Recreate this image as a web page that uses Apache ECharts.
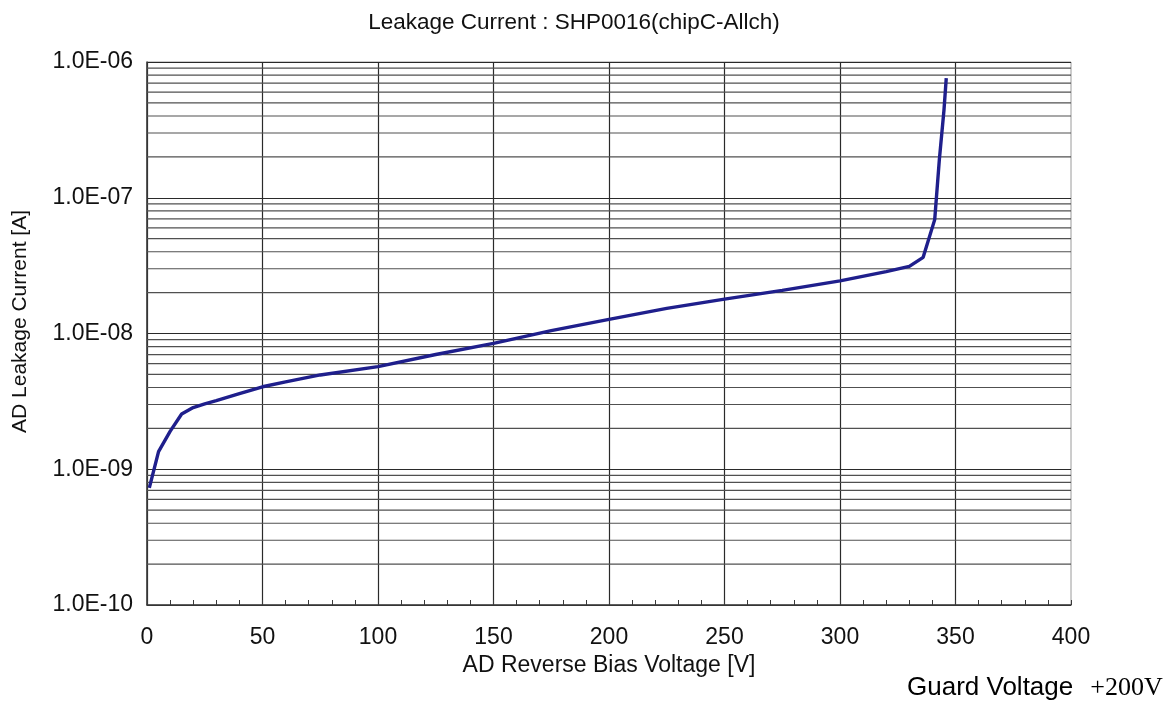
<!DOCTYPE html>
<html>
<head>
<meta charset="utf-8">
<script src="https://cdn.jsdelivr.net/npm/echarts@6/dist/echarts.min.js"></script>
<style>
  html, body { margin: 0; padding: 0; background: #ffffff; }
  #chart { width: 1175px; height: 711px; }
</style>
</head>
<body>
<div id="chart"></div>
<script>
// ---- data ----
var voltage = [1, 5, 10, 15, 20, 25, 30, 40, 50, 60, 75, 100, 125, 150, 175, 200, 225, 250, 275, 300, 320, 330, 336, 341, 343, 345, 346];
var current = [7.3e-10, 1.35e-9, 1.9e-9, 2.55e-9, 2.85e-9, 3.03e-9, 3.2e-9, 3.6e-9, 4.05e-9, 4.4e-9, 4.95e-9, 5.7e-9, 7.0e-9, 8.45e-9, 1.05e-8, 1.27e-8, 1.53e-8, 1.79e-8, 2.08e-8, 2.44e-8, 2.86e-8, 3.12e-8, 3.64e-8, 6.9e-8, 1.9e-7, 4.4e-7, 7.6e-7];
var xTickLabels = ['0', '50', '100', '150', '200', '250', '300', '350', '400'];
var yTickExponents = [-10, -9, -8, -7, -6];
var yTickLabels = ['1.0E-10', '1.0E-09', '1.0E-08', '1.0E-07', '1.0E-06'];
var minorMultipliers = [2, 3, 4, 5, 6, 7, 8, 9];
var titleText = 'Leakage Current : SHP0016(chipC-Allch)';
var xName = 'AD Reverse Bias Voltage [V]';
var yName = 'AD Leakage Current [A]';
var noteLeft = 'Guard Voltage';
var noteRight = '+200V';

// ---- build ----
var X_MIN = 0, X_MAX = 400;
var seriesData = voltage.map(function (v, i) { return [v, current[i]]; });
var minorGrid = [];
yTickExponents.slice(0, -1).forEach(function (e) {
  minorMultipliers.forEach(function (m) {
    minorGrid.push([X_MIN, m * Math.pow(10, e)]);
  });
});

var chart = echarts.init(document.getElementById('chart'), null, { renderer: 'canvas' });
var textColor = '#111111';
var sans = '"Liberation Sans", Arial, sans-serif';
chart.setOption({
  backgroundColor: '#ffffff',
  animation: false,
  grid: { left: 147, right: 104, top: 62, bottom: 106, show: true, borderColor: '#9a9a9a', borderWidth: 1, backgroundColor: 'transparent' },
  graphic: [
    {
      type: 'text', x: 574, y: 23,
      style: { text: titleText, fill: textColor, font: '22.5px "Liberation Sans", Arial, sans-serif', textAlign: 'center', textVerticalAlign: 'middle' }
    },
    {
      type: 'text', x: 907, y: 688,
      style: {
        text: '{a|' + noteLeft + '}{b|' + noteRight + '}',
        textVerticalAlign: 'middle',
        rich: {
          a: { fontFamily: sans, fontSize: 26, fill: '#000000', color: '#000000' },
          b: { fontFamily: '"Liberation Serif", "Times New Roman", serif', fontSize: 26, fill: '#000000', color: '#000000', padding: [0, 0, 0, 17] }
        }
      }
    }
  ],
  xAxis: {
    type: 'value', min: X_MIN, max: X_MAX, interval: 50,
    name: xName, nameLocation: 'middle', nameGap: 36,
    nameTextStyle: { fontFamily: sans, fontSize: 23, color: textColor },
    axisLine: { show: true, onZero: false, lineStyle: { color: '#3a3a3a', width: 1.5 } },
    axisTick: { show: true, inside: true, length: 5, lineStyle: { color: '#3a3a3a' } },
    minorTick: { show: true, splitNumber: 5, length: 5, lineStyle: { color: '#3a3a3a' } },
    splitLine: { show: true, showMaxLine: false, lineStyle: { color: '#2a2a2a', width: 1.2 } },
    axisLabel: {
      margin: 21, fontFamily: sans, fontSize: 23, color: textColor,
      formatter: function (v) { return xTickLabels[Math.round(v / 50)]; }
    }
  },
  yAxis: {
    type: 'log', logBase: 10, min: 1e-10, max: 1e-6, splitNumber: 4,
    name: yName, nameLocation: 'middle', nameGap: 116, nameRotate: 90,
    nameTextStyle: { fontFamily: sans, fontSize: 21, color: textColor, padding: [0, 0, 0, 24] },
    axisLine: { show: true, lineStyle: { color: '#3a3a3a', width: 1.5 } },
    axisTick: { show: false },
    splitLine: { show: true, showMaxLine: false, lineStyle: { color: '#2a2a2a', width: 1.2 } },
    axisLabel: {
      margin: 14, fontFamily: sans, fontSize: 23, color: textColor,
      formatter: function (v) {
        var e = Math.round(Math.log(v) / Math.LN10);
        var idx = yTickExponents.indexOf(e);
        return idx >= 0 ? yTickLabels[idx] : '';
      }
    }
  },
  series: [
    {
      type: 'custom',
      name: 'minor-grid',
      silent: true,
      z: 1,
      clip: true,
      data: minorGrid,
      encode: { x: 0, y: 1 },
      renderItem: function (params, api) {
        var v = api.value(1);
        var p0 = api.coord([X_MIN, v]);
        var p1 = api.coord([X_MAX, v]);
        return {
          type: 'line',
          shape: { x1: p0[0], y1: p0[1], x2: p1[0], y2: p1[1] },
          style: { stroke: '#505050', lineWidth: 1.2 }
        };
      }
    },
    {
      type: 'line',
      data: seriesData,
      showSymbol: false,
      symbol: 'none',
      smooth: false,
      z: 5,
      lineStyle: { color: '#1f1f8c', width: 3.4 }
    }
  ]
});
</script>
</body>
</html>
